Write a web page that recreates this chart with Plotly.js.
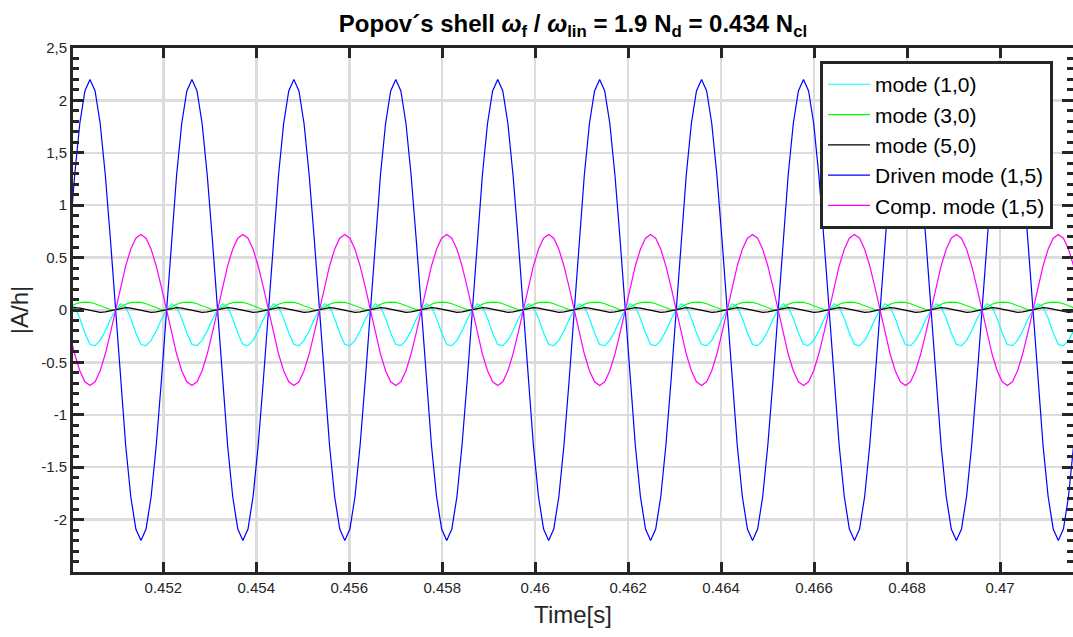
<!DOCTYPE html>
<html>
<head>
<meta charset="utf-8">
<script src="https://cdn.plot.ly/plotly-3.0.1.min.js"></script>
<style>
html,body{margin:0;padding:0;background:#fff;}
#chart{width:1073px;height:637px;}
</style>
</head>
<body>
<div id="chart"></div>
<script>
// sampling grid of the time signal (s)
const t0 = 0.449984;
const dt = 0.00010964;

const seriesNames = ["mode (1,0)", "mode (3,0)", "mode (5,0)", "Driven mode (1,5)", "Comp. mode (1,5)"];

const mode10 = [
0.06, 0.03, -0.08, -0.22,
-0.33, -0.34, -0.29, -0.2, -0.09, 0, 0.06, 0.03, -0.08, -0.22, -0.33, -0.34, -0.29, -0.2, -0.09, 0, 0.06, 0.03, -0.08, -0.22,
-0.33, -0.34, -0.29, -0.2, -0.09, 0, 0.06, 0.03, -0.08, -0.22, -0.33, -0.34, -0.29, -0.2, -0.09, 0, 0.06, 0.03, -0.08, -0.22,
-0.33, -0.34, -0.29, -0.2, -0.09, 0, 0.06, 0.03, -0.08, -0.22, -0.33, -0.34, -0.29, -0.2, -0.09, 0, 0.06, 0.03, -0.08, -0.22,
-0.33, -0.34, -0.29, -0.2, -0.09, 0, 0.06, 0.03, -0.08, -0.22, -0.33, -0.34, -0.29, -0.2, -0.09, 0, 0.06, 0.03, -0.08, -0.22,
-0.33, -0.34, -0.29, -0.2, -0.09, 0, 0.06, 0.03, -0.08, -0.22, -0.33, -0.34, -0.29, -0.2, -0.09, 0, 0.06, 0.03, -0.08, -0.22,
-0.33, -0.34, -0.29, -0.2, -0.09, 0, 0.06, 0.03, -0.08, -0.22, -0.33, -0.34, -0.29, -0.2, -0.09, 0, 0.06, 0.03, -0.08, -0.22,
-0.33, -0.34, -0.29, -0.2, -0.09, 0, 0.06, 0.03, -0.08, -0.22, -0.33, -0.34, -0.29, -0.2, -0.09, 0, 0.06, 0.03, -0.08, -0.22,
-0.33, -0.34, -0.29, -0.2, -0.09, 0, 0.06, 0.03, -0.08, -0.22, -0.33, -0.34, -0.29, -0.2, -0.09, 0, 0.06, 0.03, -0.08, -0.22,
-0.33, -0.34, -0.29, -0.2, -0.09, 0, 0.06, 0.03, -0.08, -0.22, -0.33, -0.34, -0.29, -0.2, -0.09, 0, 0.06, 0.03, -0.08, -0.22,
-0.33, -0.34, -0.29, -0.2, -0.09, 0, 0.06, 0.03, -0.08, -0.22,
-0.33, -0.34, -0.29, -0.2
];

const mode30 = [
0.03, 0.055, 0.07, 0.075,
0.072, 0.06, 0.04, 0.02, 0.005, 0, 0.03, 0.055, 0.07, 0.075, 0.072, 0.06, 0.04, 0.02, 0.005, 0, 0.03, 0.055, 0.07, 0.075,
0.072, 0.06, 0.04, 0.02, 0.005, 0, 0.03, 0.055, 0.07, 0.075, 0.072, 0.06, 0.04, 0.02, 0.005, 0, 0.03, 0.055, 0.07, 0.075,
0.072, 0.06, 0.04, 0.02, 0.005, 0, 0.03, 0.055, 0.07, 0.075, 0.072, 0.06, 0.04, 0.02, 0.005, 0, 0.03, 0.055, 0.07, 0.075,
0.072, 0.06, 0.04, 0.02, 0.005, 0, 0.03, 0.055, 0.07, 0.075, 0.072, 0.06, 0.04, 0.02, 0.005, 0, 0.03, 0.055, 0.07, 0.075,
0.072, 0.06, 0.04, 0.02, 0.005, 0, 0.03, 0.055, 0.07, 0.075, 0.072, 0.06, 0.04, 0.02, 0.005, 0, 0.03, 0.055, 0.07, 0.075,
0.072, 0.06, 0.04, 0.02, 0.005, 0, 0.03, 0.055, 0.07, 0.075, 0.072, 0.06, 0.04, 0.02, 0.005, 0, 0.03, 0.055, 0.07, 0.075,
0.072, 0.06, 0.04, 0.02, 0.005, 0, 0.03, 0.055, 0.07, 0.075, 0.072, 0.06, 0.04, 0.02, 0.005, 0, 0.03, 0.055, 0.07, 0.075,
0.072, 0.06, 0.04, 0.02, 0.005, 0, 0.03, 0.055, 0.07, 0.075, 0.072, 0.06, 0.04, 0.02, 0.005, 0, 0.03, 0.055, 0.07, 0.075,
0.072, 0.06, 0.04, 0.02, 0.005, 0, 0.03, 0.055, 0.07, 0.075, 0.072, 0.06, 0.04, 0.02, 0.005, 0, 0.03, 0.055, 0.07, 0.075,
0.072, 0.06, 0.04, 0.02, 0.005, 0, 0.03, 0.055, 0.07, 0.075,
0.072, 0.06, 0.04, 0.02
];

const mode50 = [
0.018, 0.022, 0.018, 0.007,
-0.007, -0.018, -0.022, -0.018, -0.007, 0.007, 0.018, 0.022, 0.018, 0.007, -0.007, -0.018, -0.022, -0.018, -0.007, 0.007, 0.018, 0.022, 0.018, 0.007,
-0.007, -0.018, -0.022, -0.018, -0.007, 0.007, 0.018, 0.022, 0.018, 0.007, -0.007, -0.018, -0.022, -0.018, -0.007, 0.007, 0.018, 0.022, 0.018, 0.007,
-0.007, -0.018, -0.022, -0.018, -0.007, 0.007, 0.018, 0.022, 0.018, 0.007, -0.007, -0.018, -0.022, -0.018, -0.007, 0.007, 0.018, 0.022, 0.018, 0.007,
-0.007, -0.018, -0.022, -0.018, -0.007, 0.007, 0.018, 0.022, 0.018, 0.007, -0.007, -0.018, -0.022, -0.018, -0.007, 0.007, 0.018, 0.022, 0.018, 0.007,
-0.007, -0.018, -0.022, -0.018, -0.007, 0.007, 0.018, 0.022, 0.018, 0.007, -0.007, -0.018, -0.022, -0.018, -0.007, 0.007, 0.018, 0.022, 0.018, 0.007,
-0.007, -0.018, -0.022, -0.018, -0.007, 0.007, 0.018, 0.022, 0.018, 0.007, -0.007, -0.018, -0.022, -0.018, -0.007, 0.007, 0.018, 0.022, 0.018, 0.007,
-0.007, -0.018, -0.022, -0.018, -0.007, 0.007, 0.018, 0.022, 0.018, 0.007, -0.007, -0.018, -0.022, -0.018, -0.007, 0.007, 0.018, 0.022, 0.018, 0.007,
-0.007, -0.018, -0.022, -0.018, -0.007, 0.007, 0.018, 0.022, 0.018, 0.007, -0.007, -0.018, -0.022, -0.018, -0.007, 0.007, 0.018, 0.022, 0.018, 0.007,
-0.007, -0.018, -0.022, -0.018, -0.007, 0.007, 0.018, 0.022, 0.018, 0.007, -0.007, -0.018, -0.022, -0.018, -0.007, 0.007, 0.018, 0.022, 0.018, 0.007,
-0.007, -0.018, -0.022, -0.018, -0.007, 0.007, 0.018, 0.022, 0.018, 0.007,
-0.007, -0.018, -0.022, -0.018
];

const drivenMode15 = [
0.68, 1.29, 1.78, 2.09,
2.2, 2.09, 1.78, 1.29, 0.68, 0, -0.68, -1.29, -1.78, -2.09, -2.2, -2.09, -1.78, -1.29, -0.68, 0, 0.68, 1.29, 1.78, 2.09,
2.2, 2.09, 1.78, 1.29, 0.68, 0, -0.68, -1.29, -1.78, -2.09, -2.2, -2.09, -1.78, -1.29, -0.68, 0, 0.68, 1.29, 1.78, 2.09,
2.2, 2.09, 1.78, 1.29, 0.68, 0, -0.68, -1.29, -1.78, -2.09, -2.2, -2.09, -1.78, -1.29, -0.68, 0, 0.68, 1.29, 1.78, 2.09,
2.2, 2.09, 1.78, 1.29, 0.68, 0, -0.68, -1.29, -1.78, -2.09, -2.2, -2.09, -1.78, -1.29, -0.68, 0, 0.68, 1.29, 1.78, 2.09,
2.2, 2.09, 1.78, 1.29, 0.68, 0, -0.68, -1.29, -1.78, -2.09, -2.2, -2.09, -1.78, -1.29, -0.68, 0, 0.68, 1.29, 1.78, 2.09,
2.2, 2.09, 1.78, 1.29, 0.68, 0, -0.68, -1.29, -1.78, -2.09, -2.2, -2.09, -1.78, -1.29, -0.68, 0, 0.68, 1.29, 1.78, 2.09,
2.2, 2.09, 1.78, 1.29, 0.68, 0, -0.68, -1.29, -1.78, -2.09, -2.2, -2.09, -1.78, -1.29, -0.68, 0, 0.68, 1.29, 1.78, 2.09,
2.2, 2.09, 1.78, 1.29, 0.68, 0, -0.68, -1.29, -1.78, -2.09, -2.2, -2.09, -1.78, -1.29, -0.68, 0, 0.68, 1.29, 1.78, 2.09,
2.2, 2.09, 1.78, 1.29, 0.68, 0, -0.68, -1.29, -1.78, -2.09, -2.2, -2.09, -1.78, -1.29, -0.68, 0, 0.68, 1.29, 1.78, 2.09,
2.2, 2.09, 1.78, 1.29, 0.68, 0, -0.68, -1.29, -1.78, -2.09, -2.2, -2.09, -1.78, -1.29
];

const compMode15 = [
-0.22, -0.42, -0.58, -0.685,
-0.72, -0.685, -0.58, -0.42, -0.22, 0, 0.22, 0.42, 0.58, 0.685, 0.72, 0.685, 0.58, 0.42, 0.22, 0, -0.22, -0.42, -0.58, -0.685,
-0.72, -0.685, -0.58, -0.42, -0.22, 0, 0.22, 0.42, 0.58, 0.685, 0.72, 0.685, 0.58, 0.42, 0.22, 0, -0.22, -0.42, -0.58, -0.685,
-0.72, -0.685, -0.58, -0.42, -0.22, 0, 0.22, 0.42, 0.58, 0.685, 0.72, 0.685, 0.58, 0.42, 0.22, 0, -0.22, -0.42, -0.58, -0.685,
-0.72, -0.685, -0.58, -0.42, -0.22, 0, 0.22, 0.42, 0.58, 0.685, 0.72, 0.685, 0.58, 0.42, 0.22, 0, -0.22, -0.42, -0.58, -0.685,
-0.72, -0.685, -0.58, -0.42, -0.22, 0, 0.22, 0.42, 0.58, 0.685, 0.72, 0.685, 0.58, 0.42, 0.22, 0, -0.22, -0.42, -0.58, -0.685,
-0.72, -0.685, -0.58, -0.42, -0.22, 0, 0.22, 0.42, 0.58, 0.685, 0.72, 0.685, 0.58, 0.42, 0.22, 0, -0.22, -0.42, -0.58, -0.685,
-0.72, -0.685, -0.58, -0.42, -0.22, 0, 0.22, 0.42, 0.58, 0.685, 0.72, 0.685, 0.58, 0.42, 0.22, 0, -0.22, -0.42, -0.58, -0.685,
-0.72, -0.685, -0.58, -0.42, -0.22, 0, 0.22, 0.42, 0.58, 0.685, 0.72, 0.685, 0.58, 0.42, 0.22, 0, -0.22, -0.42, -0.58, -0.685,
-0.72, -0.685, -0.58, -0.42, -0.22, 0, 0.22, 0.42, 0.58, 0.685, 0.72, 0.685, 0.58, 0.42, 0.22, 0, -0.22, -0.42, -0.58, -0.685,
-0.72, -0.685, -0.58, -0.42, -0.22, 0, 0.22, 0.42, 0.58, 0.685, 0.72, 0.685, 0.58, 0.42
];

const xTickVals = [0.452, 0.454, 0.456, 0.458, 0.46, 0.462, 0.464, 0.466, 0.468, 0.47];
const xTickText = ["0.452", "0.454", "0.456", "0.458", "0.46", "0.462", "0.464", "0.466", "0.468", "0.47"];
const yTickVals = [-2, -1.5, -1, -0.5, 0, 0.5, 1, 1.5, 2, 2.5];
const yTickText = ["-2", "-1.5", "-1", "-0.5", "0", "0.5", "1", "1,5", "2", "2,5"];

const seriesData = [mode10, mode30, mode50, drivenMode15, compMode15];
const seriesColors = ["#00ffff", "#00ff00", "#000000", "#0000ff", "#ff00ff"];

const traces = seriesData.map((arr, i) => ({
  type: "scatter",
  mode: "lines",
  name: seriesNames[i],
  x0: t0,
  dx: dt,
  y: arr,
  line: {color: seriesColors[i], width: 1.2},
  cliponaxis: true
}));

const axisColor = "#262626";
const fontFam = "Arial, 'Liberation Sans', Helvetica, sans-serif";

const layout = {
  width: 1073,
  height: 637,
  margin: {l: 73, r: 0, t: 48, b: 65},
  paper_bgcolor: "#ffffff",
  plot_bgcolor: "#ffffff",
  font: {family: fontFam, color: axisColor, size: 15},
  title: {
    text: "<b>Popov´s shell <i>ω</i><sub>f</sub> / <i>ω</i><sub>lin</sub> = 1.9 N<sub>d</sub> = 0.434 N<sub>cl</sub></b>",
    font: {family: fontFam, size: 24, color: "#000000"},
    x: 0.534, xanchor: "center",
    y: 0.963, yanchor: "middle"
  },
  showlegend: true,
  legend: {
    x: 0.747, xanchor: "left",
    y: 0.975, yanchor: "top",
    bgcolor: "#ffffff",
    bordercolor: axisColor,
    borderwidth: 3,
    itemwidth: 42,
    font: {family: fontFam, size: 21, color: "#000000"},
    tracegroupgap: 0
  },
  xaxis: {
    range: [0.450057, 0.47157],
    tickvals: xTickVals,
    ticktext: xTickText,
    ticks: "inside",
    ticklen: 10,
    tickwidth: 3,
    tickcolor: axisColor,
    showline: true,
    linecolor: axisColor,
    linewidth: 3,
    mirror: "ticks",
    showgrid: true,
    gridcolor: "#dcdcdc",
    gridwidth: 2.5,
    zeroline: false,
    tickfont: {family: fontFam, size: 15, color: axisColor},
    title: {text: "Time[s]", font: {family: fontFam, size: 24, color: axisColor}, standoff: 12},
    automargin: false
  },
  yaxis: {
    range: [-2.5, 2.5],
    tickvals: yTickVals,
    ticktext: yTickText,
    ticks: "inside",
    ticklen: 11,
    tickwidth: 3,
    tickcolor: axisColor,
    minor: {dtick: 0.1, ticks: "inside", ticklen: 6, tickwidth: 3, tickcolor: axisColor, showgrid: false},
    showline: true,
    linecolor: axisColor,
    linewidth: 3,
    mirror: "ticks",
    showgrid: true,
    gridcolor: "#dcdcdc",
    gridwidth: 2.5,
    zeroline: false,
    tickfont: {family: fontFam, size: 15, color: axisColor},
    title: {text: "|A/h|", font: {family: fontFam, size: 24, color: axisColor}, standoff: 6},
    automargin: false
  }
};

Plotly.newPlot("chart", traces, layout, {displayModeBar: false, staticPlot: true});
</script>
</body>
</html>
